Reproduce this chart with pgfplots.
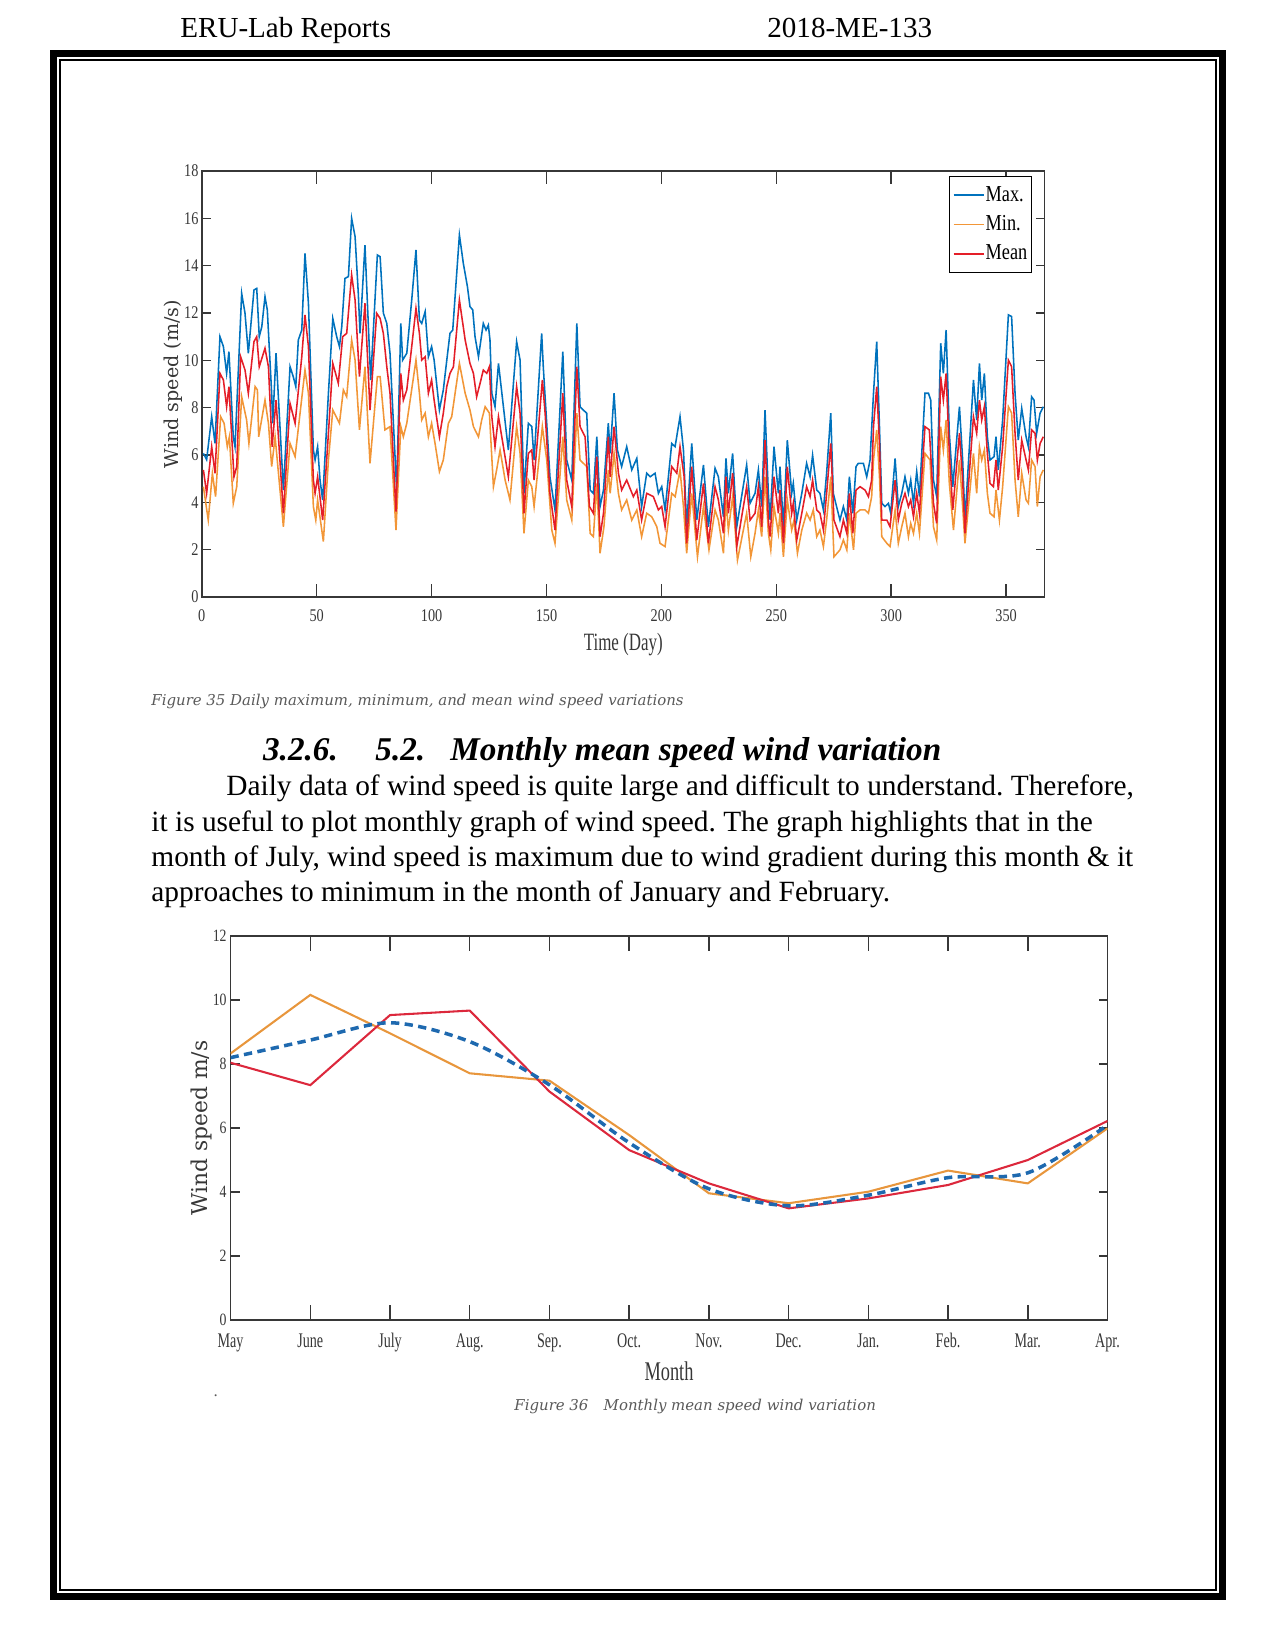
\documentclass[border=0pt]{standalone}
\usepackage{fontspec}
\setmainfont{Liberation Serif}
\newfontfamily\condA[FakeStretch=0.8]{Liberation Serif}
\newfontfamily\condB[FakeStretch=0.68]{Liberation Serif}
\newfontfamily\wideserif{DejaVu Serif}
\usepackage{pgfplots}
\pgfplotsset{compat=1.18}
\usepackage{pgfplotstable}
\definecolor{mblue}{RGB}{0,114,189}
\definecolor{morange}{RGB}{242,150,55}
\definecolor{mred}{RGB}{228,30,40}
\definecolor{capgray}{RGB}{89,89,89}
\definecolor{axgray}{RGB}{55,55,55}
\definecolor{c2orange}{RGB}{232,150,60}
\definecolor{c2red}{RGB}{220,40,60}
\definecolor{c2blue}{RGB}{30,105,175}
\frenchspacing

\pgfplotstableread{
d v
0.7 6.07
2.1 5.8
4.3 7.62
5.75 6.49
7.9 11.0
9.4 10.58
10.8 9.45
11.8 10.37
13.7 6.77
14.45 6.35
17.35 12.83
18.8 11.99
20.25 10.3
22.7 12.97
23.9 13.04
25.0 11.0
26.1 11.42
27.5 12.69
28.5 12.13
30.4 8.61
30.85 7.34
32.3 10.3
35.5 4.52
38.4 9.73
39.8 9.31
40.9 8.89
42.0 10.86
43.5 11.28
44.9 14.52
46.4 12.41
48.55 6.21
49.3 5.79
50.4 6.35
51.45 4.94
52.6 4.1
55.1 8.61
57.0 11.77
58.7 11.0
59.9 10.58
60.9 11.42
62.3 13.46
63.8 13.54
65.2 16.0
66.7 15.23
68.1 12.83
68.85 11.14
71.0 14.87
72.5 11.42
73.5 9.17
76.4 14.45
77.6 14.38
79.0 12.0
80.5 11.56
81.9 10.3
84.8 4.52
86.6 11.56
87.4 10.01
89.2 10.3
91.35 12.55
93.2 14.66
94.7 11.7
95.7 11.56
97.2 12.06
98.6 10.15
100.0 10.58
101.1 10.01
103.4 7.9
105.1 8.75
106.6 10.0
108.0 11.14
109.2 11.28
112.1 15.3
113.8 14.1
115.6 13.11
116.7 12.27
117.9 12.13
118.9 11.0
120.4 10.15
122.5 11.56
123.7 11.28
124.7 11.49
125.4 10.86
126.2 8.61
127.6 8.04
129.1 9.87
133.4 6.21
137.0 10.79
138.5 10.01
140.2 4.38
142.1 7.34
143.6 7.2
144.6 5.79
147.9 11.14
148.6 9.73
151.5 5.08
153.7 3.68
157.1 10.37
158.8 5.79
161.0 4.94
163.2 11.56
164.6 8.04
166.0 7.9
167.5 7.77
169.0 4.52
170.4 4.38
171.9 6.77
173.3 3.82
174.8 4.52
176.9 7.34
177.7 6.07
179.4 8.61
180.85 6.21
182.7 5.51
184.9 6.35
187.1 5.37
189.3 5.86
191.4 3.82
193.6 5.23
195.1 5.08
197.25 5.23
198.7 4.38
200.15 4.66
201.6 3.68
204.5 6.49
205.95 6.35
208.1 7.62
209.6 6.21
211.0 2.97
213.2 6.49
215.4 3.25
218.3 5.58
220.45 2.97
223.35 5.44
224.8 5.08
227.0 3.39
228.1 5.86
229.15 4.38
231.0 6.07
232.8 2.97
237.1 5.58
238.6 3.96
240.75 4.38
242.2 5.37
243.65 3.82
245.1 7.9
246.55 4.38
247.3 3.25
249.0 6.35
250.9 4.38
251.6 5.51
253.1 2.97
254.8 6.63
256.7 4.38
257.4 4.8
258.9 3.25
261.1 4.38
263.2 5.65
264.7 5.08
265.8 5.99
267.6 4.52
269.0 4.38
270.5 3.68
271.9 5.23
273.7 7.77
274.8 4.38
277.7 3.25
279.2 3.82
280.7 3.25
281.8 5.08
283.3 3.54
284.7 5.51
285.7 5.65
287.9 5.65
289.35 5.08
290.8 5.79
292.3 8.61
293.7 10.79
294.9 7.2
295.9 3.96
297.3 3.82
298.8 3.96
299.8 3.54
301.7 5.86
303.1 3.82
304.6 4.38
306.0 5.08
307.5 4.38
308.5 4.94
309.7 3.96
311.1 5.3
312.3 4.24
314.7 8.61
316.2 8.61
317.2 8.32
318.4 4.94
319.8 4.24
321.55 10.72
322.7 9.45
323.9 11.28
325.3 6.92
326.8 4.66
329.7 8.04
331.1 5.79
332.1 3.25
335.8 9.17
337.2 7.48
338.4 9.87
339.4 8.32
340.55 9.45
341.85 6.77
343.0 5.79
344.75 5.93
345.6 6.77
346.6 5.37
348.5 7.48
351.0 11.92
352.4 11.85
353.9 8.61
355.3 6.63
356.8 7.97
358.7 6.77
359.7 6.35
361.1 8.46
362.15 8.32
363.3 6.92
364.8 7.77
366.2 8.04
}\tmax

\pgfplotstableread{
d v
0.7 4.66
2.8 3.25
4.6 5.23
6.0 4.24
8.2 7.62
9.7 7.34
11.1 6.35
12.0 6.77
13.7 3.96
15.2 4.66
17.35 8.46
19.5 7.48
20.5 6.49
23.2 8.89
24.2 8.75
24.75 6.77
27.5 8.32
29.0 7.34
30.4 5.51
31.9 6.77
35.5 2.97
38.4 6.49
40.6 5.93
44.9 9.59
46.4 8.61
48.55 3.82
49.6 3.25
50.4 4.1
52.9 2.34
55.1 5.79
57.0 7.9
59.9 7.34
61.6 8.75
63.05 8.46
65.2 10.86
66.7 10.01
68.6 7.06
71.0 9.73
73.2 5.65
76.4 9.31
77.6 9.31
79.7 7.06
81.9 7.2
84.5 2.83
86.6 7.2
87.7 6.77
89.2 7.34
93.2 10.01
94.7 8.61
95.7 7.48
97.2 7.77
98.6 6.77
100.0 7.34
101.5 6.49
103.4 5.3
105.1 5.79
107.3 7.34
108.75 7.62
112.1 9.87
114.6 8.61
116.7 7.9
118.2 7.2
120.4 6.77
121.8 7.48
123.3 8.04
125.15 7.77
126.9 4.66
128.3 5.37
129.8 6.21
132.0 4.94
134.1 4.1
137.0 7.2
138.5 6.07
140.2 2.69
142.1 4.94
143.6 4.66
144.6 3.82
148.2 7.2
150.1 5.79
152.3 2.83
153.7 2.27
157.1 6.77
158.8 4.1
161.0 3.25
163.2 7.77
164.6 5.79
167.5 5.51
169.0 2.69
170.4 2.55
171.9 4.8
173.3 1.85
175.0 2.97
176.9 5.37
177.7 4.38
179.4 6.07
181.3 4.38
182.7 3.68
184.9 4.1
187.1 3.25
189.3 3.68
191.4 2.55
193.6 3.54
195.8 3.39
198.0 2.97
199.4 2.27
201.6 2.13
204.5 4.38
206.0 4.24
208.1 5.37
209.6 3.82
211.0 1.85
213.2 4.38
215.7 1.7
218.3 3.82
220.7 1.99
223.35 3.68
224.8 3.25
227.0 1.85
228.1 4.1
229.15 2.83
231.0 4.24
233.1 1.56
237.1 3.54
238.9 1.7
240.75 2.69
242.2 3.68
243.65 2.55
245.1 5.08
246.55 2.69
247.6 1.99
249.0 3.82
250.9 2.69
251.6 3.54
253.1 1.7
254.8 4.1
256.7 2.83
257.7 3.25
259.2 1.85
261.1 2.83
263.2 3.54
264.7 3.25
266.1 3.68
267.6 2.55
269.0 2.83
270.5 2.13
271.9 3.25
273.7 5.08
275.1 1.7
277.7 1.99
279.2 2.41
280.7 1.99
281.8 3.54
283.6 1.99
284.7 3.54
286.45 3.68
288.6 3.68
290.1 3.54
291.5 4.24
292.3 5.79
293.7 7.06
294.9 5.08
295.9 2.55
298.1 2.27
299.5 2.13
301.7 3.68
303.1 2.27
304.6 2.97
306.0 3.54
307.5 2.55
308.5 3.11
309.7 2.69
311.1 3.54
312.3 2.69
314.7 6.07
316.9 5.79
318.4 2.97
319.8 2.41
321.55 7.2
322.7 6.21
323.9 7.48
325.3 4.8
327.1 2.83
329.7 5.79
331.1 3.82
332.1 2.27
335.8 6.07
337.2 4.38
338.4 6.35
339.4 5.79
340.55 6.21
341.85 4.38
343.0 3.54
344.75 3.39
345.6 4.52
347.1 3.25
348.5 4.66
351.0 8.04
352.4 7.77
353.9 4.94
355.3 3.39
356.8 5.23
358.7 4.1
359.7 3.96
361.1 5.79
362.6 5.51
363.6 3.82
364.8 5.08
366.2 5.37
}\tmin

\pgfplotstableread{
d v
0.7 5.37
2.1 4.38
4.3 6.35
5.75 5.23
7.9 9.45
9.4 9.17
10.8 8.04
11.8 8.89
14.0 5.08
15.2 5.51
16.9 10.15
18.8 9.59
20.25 8.61
22.7 10.79
23.9 11.0
25.0 9.73
27.5 10.51
29.0 9.73
30.6 6.35
32.3 8.32
35.5 3.54
38.4 8.18
40.6 7.34
43.5 10.15
44.9 11.92
46.4 10.58
48.55 4.94
49.3 4.38
50.4 5.08
52.6 3.25
55.1 6.92
57.0 9.87
59.4 9.03
61.3 11.0
63.05 11.14
65.2 13.61
66.7 12.55
68.6 9.31
71.0 12.41
73.2 7.9
76.1 11.99
77.6 11.77
79.0 11.14
80.5 9.73
81.9 8.61
84.5 3.61
86.6 9.45
87.7 8.32
89.2 8.75
91.35 10.58
93.2 12.2
94.7 11.14
95.7 10.01
97.2 10.15
98.6 8.61
100.0 9.17
101.1 8.32
103.4 6.77
105.1 7.77
106.6 8.89
108.0 9.45
109.5 9.73
112.1 12.55
114.6 10.86
116.7 9.87
118.2 9.45
119.6 8.46
121.1 9.03
122.5 9.59
124.0 9.45
125.15 9.73
126.2 7.62
127.6 6.35
129.1 7.62
133.4 5.08
137.0 8.89
138.5 7.77
140.2 3.54
142.1 6.07
143.6 6.21
144.6 4.94
148.2 9.17
149.4 7.77
151.5 4.38
153.7 2.83
157.1 8.61
158.8 4.94
161.0 3.82
163.2 9.73
164.6 7.2
166.8 6.77
168.7 3.82
170.4 3.54
171.9 5.93
173.3 2.55
174.8 3.54
176.9 6.77
177.7 5.08
179.4 7.2
181.3 5.23
182.7 4.52
184.9 4.94
187.8 4.24
189.3 4.52
191.4 3.25
193.6 4.38
196.5 4.24
198.7 3.68
200.15 3.82
201.6 2.97
204.5 5.51
206.7 5.23
208.1 6.35
209.9 5.08
211.0 2.27
213.2 5.51
215.4 2.41
218.3 4.8
220.45 2.27
223.35 4.66
224.8 4.1
227.0 2.69
228.1 5.08
229.15 3.54
231.0 5.23
232.8 2.13
237.1 4.66
238.6 3.25
240.75 3.54
242.2 4.66
243.65 2.97
245.1 6.63
246.55 3.25
247.3 2.55
249.0 5.08
250.9 3.54
251.6 4.52
253.1 2.27
254.8 5.51
256.7 3.54
257.4 3.96
258.9 2.41
261.1 3.54
263.2 4.66
264.7 4.24
265.8 4.94
267.6 3.68
269.0 3.54
270.5 2.83
271.9 4.38
273.7 6.49
275.1 3.25
277.7 2.55
279.2 3.25
280.7 2.69
281.8 4.38
283.3 2.69
284.7 4.52
286.45 4.66
288.6 4.52
290.1 4.24
291.5 4.94
292.3 7.2
293.7 8.89
294.9 6.49
295.9 3.25
298.1 3.25
299.5 2.97
301.7 4.94
303.1 3.25
304.6 3.96
306.0 4.38
307.5 3.82
308.5 4.1
309.7 3.39
311.1 4.38
312.3 3.54
314.7 7.2
316.6 7.06
318.4 3.96
319.8 3.11
321.55 9.31
322.7 8.32
323.9 9.45
325.3 6.07
326.8 3.68
329.7 6.92
331.1 4.94
332.1 2.69
335.8 7.62
337.2 6.92
338.4 8.32
339.4 7.48
340.55 8.04
341.85 6.07
343.0 4.8
344.5 4.66
345.6 5.79
346.6 4.52
348.5 6.35
351.0 10.01
352.4 9.73
353.9 6.92
355.3 4.94
356.8 6.63
358.7 5.79
359.7 5.37
361.1 7.06
362.6 6.92
363.6 5.79
364.8 6.49
366.2 6.77
}\tmean

\begin{document}
\begin{tikzpicture}
\path[use as bounding box] (0,0) rectangle (614.295pt,-795.45pt);
\begin{scope}[x=0.4818pt,y=-0.4818pt]
  \draw[line width=3.6pt] (53.75,53.75) rectangle (1222.25,1596.25);
  \draw[line width=0.75pt] (60,60) rectangle (1216,1590);
  \node[anchor=base west, inner sep=0pt, font=\fontsize{14}{16}\selectfont] at (180,37.5) {ERU-Lab Reports};
  \node[anchor=base west, inner sep=0pt, font=\fontsize{14}{16}\selectfont] at (767,37.5) {2018-ME-133};
  % caption 1
  \node[anchor=base west, inner sep=0pt, text=capgray, font=\wideserif\itshape\fontsize{7.2}{9}\selectfont] at (151,705) {Figure 35 Daily maximum, minimum, and mean wind speed variations};
  % heading
  \node[anchor=base west, inner sep=0pt, font=\bfseries\itshape\fontsize{16}{19}\selectfont] at (262.7,760) {3.2.6.};
  \node[anchor=base west, inner sep=0pt, font=\bfseries\itshape\fontsize{16}{19}\selectfont] at (375,760) {5.2.};
  \node[anchor=base west, inner sep=0pt, font=\bfseries\itshape\fontsize{16}{19}\selectfont] at (450,760) {Monthly mean speed wind variation};
  % body
  \node[anchor=base west, inner sep=0pt, font=\fontsize{14.15}{17}\selectfont] at (226,795) {Daily data of wind speed is quite large and difficult to understand. Therefore,};
  \node[anchor=base west, inner sep=0pt, font=\fontsize{14.15}{17}\selectfont] at (151,831.5) {it is useful to plot monthly graph of wind speed. The graph highlights that in the};
  \node[anchor=base west, inner sep=0pt, font=\fontsize{14.15}{17}\selectfont] at (151,866.7) {month of July, wind speed is maximum due to wind gradient during this month \& it};
  \node[anchor=base west, inner sep=0pt, font=\fontsize{14.15}{17}\selectfont] at (151,901.7) {approaches to minimum in the month of January and February.};
  % stray dot and caption 2
  \node[anchor=base west, inner sep=0pt, text=capgray, font=\wideserif\fontsize{7.2}{9}\selectfont] at (213,1396) {.};
  \node[anchor=base west, inner sep=0pt, text=capgray, font=\wideserif\itshape\fontsize{7.2}{9}\selectfont] at (514,1410) {Figure 36};
  \node[anchor=base west, inner sep=0pt, text=capgray, font=\wideserif\itshape\fontsize{7.2}{9}\selectfont] at (603.3,1410) {Monthly mean speed wind variation};
\end{scope}

% ---------------- Chart 1 ----------------
\begin{axis}[
  at={(97.23pt,-287.63pt)}, anchor=south west,
  scale only axis, width=406.1pt, height=205.25pt,
  xmin=0, xmax=366.8, ymin=0, ymax=18,
  xtick={0,50,...,350}, ytick={0,2,...,18},
  tick align=inside,
  axis line style={axgray, line width=0.7pt},
  every tick/.style={axgray, line width=0.7pt},
  xtick style={/pgfplots/major tick length=6.5pt},
  ytick style={/pgfplots/major tick length=4.3pt},
  xticklabel style={font=\condA\fontsize{8.6}{10}\selectfont, text=axgray, yshift=-2.5pt},
  yticklabel style={font=\condA\fontsize{8.6}{10}\selectfont, text=axgray, xshift=1.9pt},
  /pgf/number format/assume math mode=true,
  xlabel={Time (Day)}, ylabel={Wind speed (m/s)},
  xlabel style={at={(axis description cs:0.5,-0.111)}, anchor=center, font=\condB\fontsize{12}{14}\selectfont, text=axgray},
  ylabel style={at={(axis description cs:-0.0335,0.5)}, anchor=center, font=\wideserif\fontsize{9.2}{11}\selectfont, text=axgray},
  legend style={at={(axis description cs:0.985,0.988)}, anchor=north east, draw=black, line width=0.6pt,
    font=\condA\fontsize{11}{12}\selectfont, inner xsep=1.5pt, inner ysep=3.6pt, row sep=3.4pt,
    nodes={inner xsep=0.5pt, inner ysep=1pt}, cells={anchor=west},
    /tikz/every odd column/.style={column sep=0pt}},
  legend image code/.code={\draw[#1, line width=0.8pt] (0pt,0pt) -- (14.5pt,0pt);},
]
\addplot[mblue, line width=0.75pt] table[x=d,y=v]{\tmax};
\addlegendentry{Max.}
\addplot[morange, line width=0.75pt] table[x=d,y=v]{\tmin};
\addlegendentry{Min.}
\addplot[mred, line width=0.75pt] table[x=d,y=v]{\tmean};
\addlegendentry{Mean}
\end{axis}

% ---------------- Chart 2 ----------------
\begin{axis}[
  at={(111.1pt,-635.98pt)}, anchor=south west,
  scale only axis, width=422.49pt, height=185.01pt,
  xmin=0, xmax=11, ymin=0, ymax=12,
  xtick={0,...,11},
  xticklabels={May,June,July,Aug.,Sep.,Oct.,Nov.,Dec.,Jan.,Feb.,Mar.,Apr.},
  ytick={0,2,...,12},
  tick align=inside,
  axis line style={axgray, line width=0.7pt},
  every tick/.style={axgray, line width=0.7pt},
  xtick style={/pgfplots/major tick length=7.2pt},
  ytick style={/pgfplots/major tick length=4.3pt},
  xticklabel style={font=\condB\fontsize{10}{11}\selectfont, text=axgray, yshift=-3pt},
  yticklabel style={font=\condA\fontsize{8.3}{10}\selectfont, text=axgray, xshift=1.6pt},
  /pgf/number format/assume math mode=true,
  xlabel={Month}, ylabel={Wind speed m/s},
  xlabel style={at={(axis description cs:0.5,-0.1328)}, anchor=center, font=\condB\fontsize{13}{15}\selectfont, text=axgray},
  ylabel style={at={(axis description cs:-0.0337,0.5)}, anchor=center, font=\wideserif\fontsize{10.5}{12}\selectfont, text=axgray},
]
\addplot[c2orange, line width=1pt] coordinates {(0,8.33)(1,10.16)(2,8.96)(3,7.71)(4,7.48)(5,5.78)(6,3.96)(7,3.65)(8,4.01)(9,4.67)(10,4.27)(11,5.99)};
\addplot[c2red, line width=1pt] coordinates {(0,8.04)(1,7.34)(2,9.53)(3,9.67)(4,7.14)(5,5.31)(6,4.27)(7,3.49)(8,3.8)(9,4.22)(10,5.0)(11,6.22)};
\addplot[c2blue, line width=1.7pt, dash pattern=on 4pt off 2.6pt, smooth] coordinates {(0,8.2)(1,8.75)(2,9.29)(3,8.7)(4,7.35)(5,5.54)(6,4.1)(7,3.57)(8,3.9)(9,4.45)(10,4.6)(11,6.09)};
\end{axis}
\end{tikzpicture}
\end{document}
